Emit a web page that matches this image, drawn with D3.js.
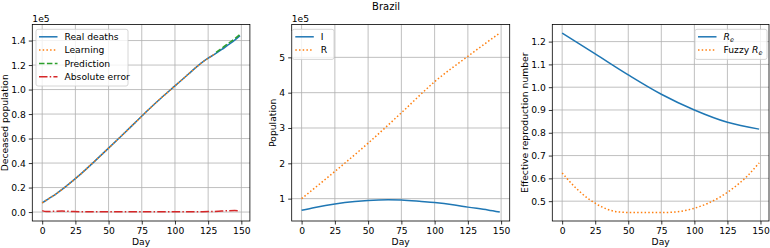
<!DOCTYPE html>
<html>
<head>
<meta charset="utf-8">
<script src="https://cdn.jsdelivr.net/npm/d3@7"></script>
<style>
  html, body { margin: 0; padding: 0; background: #fff; }
  svg text { font-family: "DejaVu Sans", sans-serif; fill: #000; }
</style>
</head>
<body>
<div id="chart"></div>
<script>
const width = 770;
const height = 248;
const fontSize = 9.2;

const title = 'Brazil';
const dayTicks = [0, 25, 50, 75, 100, 125, 150];

// panel 1: deceased population
const deathDays = [0, 5, 10, 15, 20, 25, 30, 40, 50, 60, 70, 80, 90, 100, 110, 115, 120, 125, 130, 135, 140, 145, 149];
const realDeaths = [7500, 11000, 14500, 18500, 22800, 27300, 32000, 42000, 52200, 62500, 73000, 83500, 93500, 103000, 112500, 117300, 121800, 125600, 128900, 132500, 136400, 140300, 144000];
const learnDays = deathDays.slice(0, 19);
const learning = realDeaths.slice(0, 19);
const predDays = [131, 135, 140, 145, 149];
const prediction = [130300, 133500, 137500, 141500, 145000];
const errorDays = [0, 3, 8, 15, 22, 30, 50, 75, 100, 120, 128, 135, 140, 145, 149];
const absError = [1200, 400, 600, 800, 500, 300, 200, 200, 200, 300, 400, 800, 1100, 1200, 1100];
const deathTicks = [0, 0.2, 0.4, 0.6, 0.8, 1.0, 1.2, 1.4];

// panel 2: I and R
const iDays = [0, 10, 25, 40, 50, 65, 75, 90, 100, 115, 125, 140, 149];
const infected = [67000, 75000, 85000, 92000, 95000, 97000, 96000, 92000, 89000, 82000, 76000, 68000, 62000];
const rDays = [0, 25, 50, 75, 100, 125, 149];
const recovered = [100000, 177000, 257000, 343000, 431000, 503000, 569000];
const popTicks = [1, 2, 3, 4, 5];

// panel 3: effective reproduction number
const reDays = [0, 25, 50, 75, 100, 125, 149];
const re = [1.237, 1.146, 1.054, 0.969, 0.9, 0.846, 0.816];
const fuzzyDays = [0, 10, 20, 25, 30, 40, 45, 50, 60, 75, 85, 90, 100, 110, 120, 130, 140, 149];
const fuzzyRe = [0.624, 0.56, 0.51, 0.491, 0.475, 0.455, 0.452, 0.45, 0.45, 0.45, 0.452, 0.456, 0.469, 0.49, 0.52, 0.56, 0.61, 0.668];
const reTicks = [0.5, 0.6, 0.7, 0.8, 0.9, 1.0, 1.1, 1.2];

const blue = '#1f77b4', orange = '#ff7f0e', green = '#2ca02c', red = '#d62728';
const styles = {
    solid: null,
    dotted: '1.5,2.2',
    dashed: '5.5,2.4',
    dashdot: '8.5,2.2,1.5,2.2'
};

const zip = (xs, ys) => xs.map((d, i) => [d, ys[i]]);

const panels = [
    {
        left: 32.3, right: 249.9, yDomain: [-7300, 153100], scale: 1e5,
        yTicks: deathTicks, fmt: d3.format('.1f'), ylabel: 'Deceased population', offset: '1e5',
        series: [
            { data: zip(deathDays, realDeaths), color: blue, dash: 'solid', label: 'Real deaths' },
            { data: zip(learnDays, learning), color: orange, dash: 'dotted', label: 'Learning' },
            { data: zip(predDays, prediction), color: green, dash: 'dashed', label: 'Prediction' },
            { data: zip(errorDays, absError), color: red, dash: 'dashdot', label: 'Absolute error' }
        ],
        legend: { x: 36, y: 29.3, w: 92 }
    },
    {
        left: 291.7, right: 509.7, yDomain: [36700, 593000], scale: 1e5,
        yTicks: popTicks, fmt: d3.format('d'), ylabel: 'Population', offset: '1e5',
        series: [
            { data: zip(iDays, infected), color: blue, dash: 'solid', label: 'I' },
            { data: zip(rDays, recovered), color: orange, dash: 'dotted', label: 'R' }
        ],
        legend: { x: 292.3, y: 29.3, w: 41.7 }
    },
    {
        left: 552.3, right: 769, yDomain: [0.413, 1.275], scale: 1,
        yTicks: reTicks, fmt: d3.format('.1f'), ylabel: 'Effective reproduction number', offset: null,
        series: [
            { data: zip(reDays, re), color: blue, dash: 'solid', label: 'R', sub: 'e' },
            { data: zip(fuzzyDays, fuzzyRe), color: orange, dash: 'dotted', label: 'Fuzzy R', sub: 'e' }
        ],
        legend: { x: 695, y: 29.3, w: 72 }
    }
];

const plotTop = 24.5;
const plotBottom = 221;

const svg = d3.select('#chart')
    .append('svg')
    .attr('width', width)
    .attr('height', height)
    .style('font-size', fontSize + 'px');

svg.append('text')
    .attr('x', 386)
    .attr('y', 10)
    .attr('text-anchor', 'middle')
    .style('font-size', '10px')
    .text(title);

panels.forEach((p, idx) => {
    const x = d3.scaleLinear().domain([-7.45, 156.45]).range([p.left, p.right]);
    const y = d3.scaleLinear().domain(p.yDomain).range([plotBottom, plotTop]);
    const g = svg.append('g');
    const clipId = 'clip' + idx;
    g.append('clipPath').attr('id', clipId)
        .append('rect')
        .attr('x', p.left).attr('y', plotTop)
        .attr('width', p.right - p.left).attr('height', plotBottom - plotTop);

    // GRID
    g.append('g').selectAll('line').data(dayTicks).join('line')
        .attr('x1', d => x(d)).attr('x2', d => x(d))
        .attr('y1', plotTop).attr('y2', plotBottom)
        .attr('stroke', '#b0b0b0').attr('stroke-width', 0.8);
    g.append('g').selectAll('line').data(p.yTicks).join('line')
        .attr('x1', p.left).attr('x2', p.right)
        .attr('y1', d => y(d * p.scale)).attr('y2', d => y(d * p.scale))
        .attr('stroke', '#b0b0b0').attr('stroke-width', 0.8);

    // SERIES
    const line = d3.line()
        .x(d => x(d[0]))
        .y(d => y(d[1]))
        .curve(d3.curveMonotoneX);
    g.append('g').attr('clip-path', `url(#${clipId})`)
        .selectAll('path').data(p.series).join('path')
        .attr('d', s => line(s.data))
        .attr('fill', 'none')
        .attr('stroke', s => s.color)
        .attr('stroke-width', 1.5)
        .attr('stroke-dasharray', s => styles[s.dash]);

    // AXES
    const xAxis = d3.axisBottom(x).tickValues(dayTicks).tickSize(3.5).tickPadding(3);
    const yAxis = d3.axisLeft(y).tickValues(p.yTicks.map(d => d * p.scale))
        .tickFormat(d => p.fmt(d / p.scale)).tickSize(3.5).tickPadding(3);
    const gx = g.append('g').attr('transform', `translate(0,${plotBottom})`).call(xAxis);
    const gy = g.append('g').attr('transform', `translate(${p.left},0)`).call(yAxis);
    [gx, gy].forEach(a => {
        a.select('.domain').remove();
        a.selectAll('.tick line').attr('stroke', '#000').attr('stroke-width', 0.8);
        a.selectAll('.tick text').style('font-size', fontSize + 'px').attr('fill', '#000');
    });

    g.append('rect')
        .attr('x', p.left).attr('y', plotTop)
        .attr('width', p.right - p.left).attr('height', plotBottom - plotTop)
        .attr('fill', 'none').attr('stroke', '#000').attr('stroke-width', 0.8);

    // LABELS
    g.append('text')
        .attr('x', (p.left + p.right) / 2).attr('y', 245)
        .attr('text-anchor', 'middle')
        .text('Day');
    const labelX = idx === 0 ? 8 : idx === 1 ? 276 : 528;
    g.append('text')
        .attr('transform', `translate(${labelX},${(plotTop + plotBottom) / 2}) rotate(-90)`)
        .attr('text-anchor', 'middle')
        .text(p.ylabel);
    if (p.offset) {
        g.append('text')
            .attr('x', p.left).attr('y', 22)
            .text(p.offset);
    }

    // LEGEND
    const lg = p.legend;
    const rowH = 13.3;
    const lgH = p.series.length * rowH + 3.5;
    g.append('rect')
        .attr('x', lg.x).attr('y', lg.y)
        .attr('width', lg.w).attr('height', lgH)
        .attr('rx', 2)
        .attr('fill', '#fff').attr('fill-opacity', 0.8)
        .attr('stroke', '#cccccc').attr('stroke-width', 0.8);
    p.series.forEach((s, i) => {
        const cy = lg.y + 7.5 + i * rowH;
        g.append('line')
            .attr('x1', lg.x + 3).attr('x2', lg.x + 21.5)
            .attr('y1', cy).attr('y2', cy)
            .attr('stroke', s.color).attr('stroke-width', 1.5)
            .attr('stroke-dasharray', styles[s.dash]);
        const t = g.append('text')
            .attr('x', lg.x + 28.5).attr('y', cy + 3.3);
        if (s.sub) {
            const parts = s.label.split('R');
            t.append('tspan').text(parts[0]);
            t.append('tspan').style('font-style', 'italic').text('R');
            t.append('tspan').attr('dy', 2).style('font-size', '6.5px').style('font-style', 'italic').text(s.sub);
        } else {
            t.text(s.label);
        }
    });
});
</script>
</body>
</html>
